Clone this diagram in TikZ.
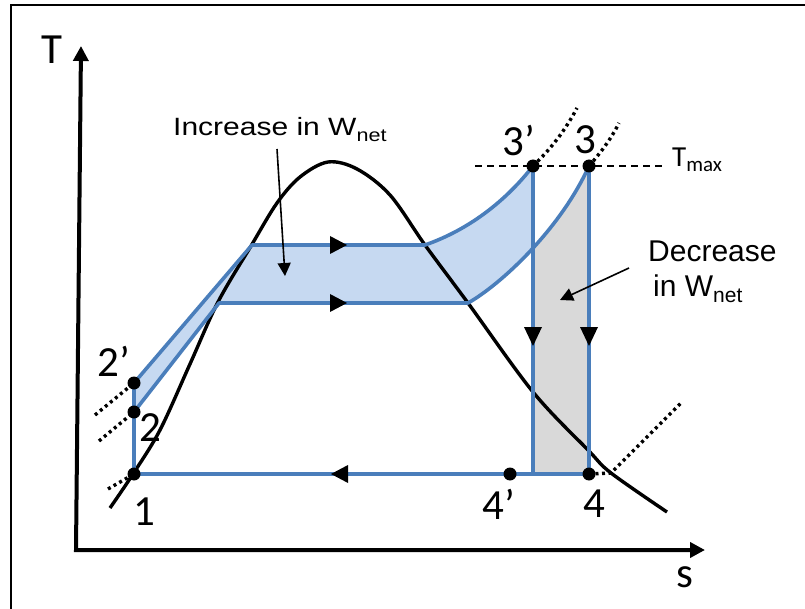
\documentclass[tikz,border=0pt]{standalone}
\usepackage{fontspec}
\usepackage{graphicx}
\setmainfont{Carlito}
\newfontfamily\arialf{Liberation Sans}
\usetikzlibrary{arrows.meta}
\definecolor{cycblue}{RGB}{74,126,187}
\definecolor{lightblue}{RGB}{198,217,241}
\definecolor{lightgrey}{RGB}{217,217,217}
\begin{document}
\begin{tikzpicture}[x=1pt,y=-1pt,
  cyc/.style={draw=cycblue, line width=3.6pt, line join=round},
  dome/.style={draw=black, line width=3.4pt, line join=round},
  dotline/.style={draw=black, line width=3.4pt, dash pattern=on 3pt off 3.5pt},
  annot/.style={draw=black, line width=1.6pt, -{Triangle[length=13pt,width=13pt]}},
  lbl/.style={font=\fontsize{43}{43}\selectfont, inner sep=0pt},
  statept/.style={circle, fill=black, inner sep=0pt, minimum size=13pt},
  tri/.style={fill=black}
]
\useasboundingbox (0,0) rectangle (805,609);
% frame
\draw[line width=2pt] (11,612) -- (11,5) -- (808,5);

% key coordinates
\coordinate (p2p) at (134,383);
\coordinate (p2) at (134,412);
\coordinate (p1) at (134,474);
\coordinate (k1) at (252,245);
\coordinate (k1r) at (425,245);
\coordinate (p3p) at (533,166);
\coordinate (k2) at (219,303);
\coordinate (k2r) at (468,303);
\coordinate (p3) at (589,166);
\coordinate (p4p) at (510,474);
\coordinate (b3p) at (533,474);
\coordinate (p4) at (589,474);

% fills
\begin{scope}
  \clip (0,0) rectangle (533,609);
  \fill[lightblue] (p2p) -- (k1) -- (k1r) .. controls (468,230) and (505,202) .. (p3p)
    -- (p3) .. controls (560,230) and (500,285) .. (k2r) -- (k2) -- (p2) -- cycle;
\end{scope}
\begin{scope}
  \clip (533,0) rectangle (589,609);
  \fill[lightgrey] (k2r) .. controls (500,285) and (560,230) .. (p3) -- (p4) -- (468,474) -- cycle;
\end{scope}

% axes
\draw[line width=4pt, line join=miter, {Triangle[length=15pt,width=15pt]}-{Triangle[length=15pt,width=15pt]}]
  (81,46) -- (76,550) -- (705,550);

% saturation dome
\draw[dome] plot[smooth, tension=0.55] coordinates {(110,508) (133,474) (160,430) (190,364) (218,302) (251,246) (277,203) (300,177) (328,162) (357,169) (390,195) (425,245) (468,303) (533,392) (588,450) (611,473) (667,512)};

% Tmax dashed line
\draw[line width=1.6pt, dash pattern=on 7pt off 5pt] (475,166) -- (662,166);

% dotted isobars
\draw[dotline] (108,489) -- (p1);
\draw[dotline] (99,441) -- (p2);
\draw[dotline] (95,415) -- (p2p);
\draw[dotline] (p3p) .. controls (555,145) and (568,125) .. (577,108);
\draw[dotline] (p3) .. controls (603,150) and (612,137) .. (619,123);
\draw[dotline] (p4) -- (611,473) -- (682,402);

% cycle lines
\draw[cyc] (p2p) -- (k1) -- (k1r) .. controls (468,230) and (505,202) .. (p3p);
\draw[cyc] (p2) -- (k2) -- (k2r) .. controls (500,285) and (560,230) .. (p3);
\draw[cyc] (p2p) -- (p1) -- (p4);
\draw[cyc] (p3p) -- (b3p);
\draw[cyc] (p3) -- (p4);

% direction triangles
\fill[tri] (330,236) -- (347,245) -- (330,254) -- cycle;
\fill[tri] (330,294) -- (347,303) -- (330,312) -- cycle;
\fill[tri] (348,465) -- (331,474) -- (348,483) -- cycle;
\fill[tri] (524,327) -- (533,346) -- (542,327) -- cycle;
\fill[tri] (580,327) -- (589,346) -- (598,327) -- cycle;

% state points
\node[statept] (n1) at (p1) {};
\node[statept] (n2) at (p2) {};
\node[statept] (n2p) at (p2p) {};
\node[statept] (n3p) at (p3p) {};
\node[statept] (n3) at (p3) {};
\node[statept] (n4p) at (p4p) {};
\node[statept] (n4) at (p4) {};

% labels
\node[lbl] (l1) at (144,512) {1};
\node[lbl] (l2) at (150,428) {2};
\node[lbl] (l2p) at (114,361) {2’};
\node[lbl] (l3p) at (519,140) {3’};
\node[lbl] (l3) at (585,140) {3};
\node[lbl] (l4p) at (499,504) {4’};
\node[lbl] (l4) at (594,504) {4};
\node[lbl] (lT) at (52,50) {T};
\node[lbl] (ls) at (685,577) {s};
\node[anchor=base west, inner sep=0pt, font=\fontsize{29}{29}\selectfont] (tmax) at (672,167)
  {T\raisebox{-5pt}{\fontsize{21}{21}\selectfont max}};

% annotations
\node[anchor=base west, inner sep=0pt, font=\arialf\fontsize{25}{25}\selectfont] (inc) at (173,136)
  {\scalebox{1.2}[1]{Increase in W\raisebox{-6pt}{\fontsize{18}{18}\selectfont net}}};
\node[anchor=base west, inner sep=0pt, font=\arialf\fontsize{30}{30}\selectfont] (dec1) at (648,262) {Decrease};
\node[anchor=base west, inner sep=0pt, font=\arialf\fontsize{30}{30}\selectfont] (dec2) at (653,297)
  {in W\raisebox{-6pt}{\fontsize{21}{21}\selectfont net}};
\coordinate (incstart) at (277,149);
\coordinate (incend) at (285,276);
\coordinate (decstart) at (629,268);
\coordinate (decend) at (560,300);
\draw[annot] (incstart) -- (incend);
\draw[annot] (decstart) -- (decend);
\end{tikzpicture}
\end{document}
